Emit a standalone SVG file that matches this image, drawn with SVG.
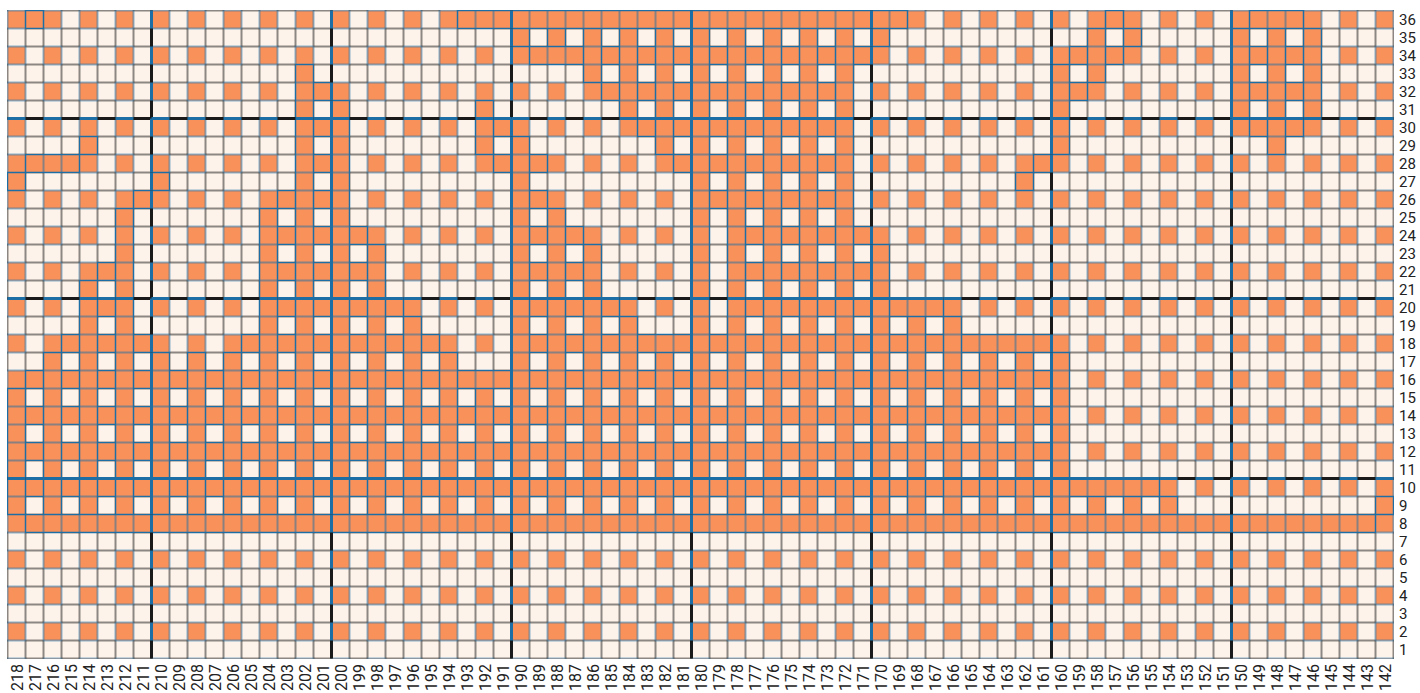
<svg xmlns="http://www.w3.org/2000/svg" width="1420" height="693" viewBox="0 0 1420 693">
<defs>
<pattern id="base" patternUnits="userSpaceOnUse" x="7.5" y="10.5" width="36" height="36">
<rect width="36" height="36" fill="#fdf3ea"/>
<path d="M0 18V36M18 18V36M36 18V36M18 0H36M18 18H36M18 36H36" fill="none" stroke="#1a1a1a"/>
<rect width="18" height="18" fill="#f9915b"/>
<path d="M0 0H18V18H0ZM36 0V18M0 36H18" fill="none" stroke="#1c6ea4"/>
</pattern>
<pattern id="org" patternUnits="userSpaceOnUse" x="7.5" y="10.5" width="18" height="18">
<rect width="18" height="18" fill="#f9915b"/>
<path d="M0 0H18V18H0Z" fill="none" stroke="#1c6ea4"/>
</pattern>
</defs>
<style>
.o{fill:url(#org);stroke:#1c6ea4;stroke-width:1}
.tk{stroke:#1a1a1a;stroke-width:3;fill:none}
.tb{stroke:#1c6ea4;stroke-width:3;fill:none}
.td{stroke:#1c6ea4;stroke-width:3;stroke-dasharray:18 18}
text{font-family:Roboto,"Liberation Sans",sans-serif;fill:#222}
.rl{font-size:15px}
.cl{font-size:16px;text-anchor:end}
</style>
<rect x="0" y="0" width="1420" height="693" fill="#ffffff"/>
<g id="grid">
<rect x="7" y="10" width="1387" height="649" fill="url(#base)"/>
</g>
<g id="hbars" class="o">
<rect x="25.5" y="10.5" width="18" height="18"/>
<rect x="457.5" y="10.5" width="450" height="18"/>
<rect x="1105.5" y="10.5" width="18" height="18"/>
<rect x="1249.5" y="10.5" width="54" height="18"/>
<rect x="529.5" y="46.5" width="342" height="18"/>
<rect x="1069.5" y="46.5" width="54" height="18"/>
<rect x="1249.5" y="46.5" width="54" height="18"/>
<rect x="313.5" y="82.5" width="18" height="18"/>
<rect x="601.5" y="82.5" width="234" height="18"/>
<rect x="1069.5" y="82.5" width="18" height="18"/>
<rect x="1249.5" y="82.5" width="54" height="18"/>
<rect x="313.5" y="118.5" width="18" height="18"/>
<rect x="493.5" y="118.5" width="18" height="18"/>
<rect x="637.5" y="118.5" width="198" height="18"/>
<rect x="1249.5" y="118.5" width="54" height="18"/>
<rect x="25.5" y="154.5" width="54" height="18"/>
<rect x="313.5" y="154.5" width="18" height="18"/>
<rect x="493.5" y="154.5" width="54" height="18"/>
<rect x="673.5" y="154.5" width="162" height="18"/>
<rect x="1033.5" y="154.5" width="18" height="18"/>
<rect x="133.5" y="190.5" width="18" height="18"/>
<rect x="277.5" y="190.5" width="54" height="18"/>
<rect x="529.5" y="190.5" width="18" height="18"/>
<rect x="709.5" y="190.5" width="126" height="18"/>
<rect x="277.5" y="226.5" width="90" height="18"/>
<rect x="529.5" y="226.5" width="54" height="18"/>
<rect x="745.5" y="226.5" width="126" height="18"/>
<rect x="97.5" y="262.5" width="18" height="18"/>
<rect x="277.5" y="262.5" width="90" height="18"/>
<rect x="529.5" y="262.5" width="54" height="18"/>
<rect x="745.5" y="262.5" width="126" height="18"/>
<rect x="97.5" y="298.5" width="18" height="18"/>
<rect x="277.5" y="298.5" width="126" height="18"/>
<rect x="529.5" y="298.5" width="90" height="18"/>
<rect x="745.5" y="298.5" width="198" height="18"/>
<rect x="61.5" y="334.5" width="90" height="18"/>
<rect x="241.5" y="334.5" width="198" height="18"/>
<rect x="529.5" y="334.5" width="522" height="18"/>
<rect x="25.5" y="370.5" width="1026" height="18"/>
<rect x="25.5" y="406.5" width="1026" height="18"/>
<rect x="25.5" y="442.5" width="1026" height="18"/>
<rect x="25.5" y="478.5" width="1134" height="18"/>
<rect x="25.5" y="514.5" width="1350" height="18"/>
</g>
<g id="vbars" class="o">
<rect x="7.5" y="172.5" width="18" height="18"/>
<rect x="7.5" y="388.5" width="18" height="126"/>
<rect x="43.5" y="352.5" width="18" height="162"/>
<rect x="79.5" y="136.5" width="18" height="18"/>
<rect x="79.5" y="280.5" width="18" height="234"/>
<rect x="115.5" y="208.5" width="18" height="306"/>
<rect x="151.5" y="172.5" width="18" height="18"/>
<rect x="151.5" y="352.5" width="18" height="162"/>
<rect x="187.5" y="352.5" width="18" height="162"/>
<rect x="223.5" y="352.5" width="18" height="162"/>
<rect x="259.5" y="208.5" width="18" height="306"/>
<rect x="295.5" y="64.5" width="18" height="450"/>
<rect x="331.5" y="100.5" width="18" height="414"/>
<rect x="367.5" y="244.5" width="18" height="270"/>
<rect x="403.5" y="316.5" width="18" height="198"/>
<rect x="439.5" y="352.5" width="18" height="162"/>
<rect x="475.5" y="100.5" width="18" height="54"/>
<rect x="475.5" y="388.5" width="18" height="126"/>
<rect x="511.5" y="28.5" width="18" height="18"/>
<rect x="511.5" y="136.5" width="18" height="378"/>
<rect x="547.5" y="28.5" width="18" height="18"/>
<rect x="547.5" y="208.5" width="18" height="306"/>
<rect x="583.5" y="28.5" width="18" height="54"/>
<rect x="583.5" y="244.5" width="18" height="270"/>
<rect x="619.5" y="28.5" width="18" height="90"/>
<rect x="619.5" y="316.5" width="18" height="198"/>
<rect x="655.5" y="28.5" width="18" height="126"/>
<rect x="655.5" y="352.5" width="18" height="162"/>
<rect x="691.5" y="28.5" width="18" height="486"/>
<rect x="727.5" y="28.5" width="18" height="486"/>
<rect x="763.5" y="28.5" width="18" height="486"/>
<rect x="799.5" y="28.5" width="18" height="486"/>
<rect x="835.5" y="28.5" width="18" height="486"/>
<rect x="871.5" y="28.5" width="18" height="18"/>
<rect x="871.5" y="244.5" width="18" height="270"/>
<rect x="907.5" y="316.5" width="18" height="198"/>
<rect x="943.5" y="316.5" width="18" height="198"/>
<rect x="979.5" y="352.5" width="18" height="162"/>
<rect x="1015.5" y="172.5" width="18" height="18"/>
<rect x="1015.5" y="352.5" width="18" height="162"/>
<rect x="1051.5" y="64.5" width="18" height="90"/>
<rect x="1051.5" y="352.5" width="18" height="162"/>
<rect x="1087.5" y="28.5" width="18" height="54"/>
<rect x="1087.5" y="496.5" width="18" height="18"/>
<rect x="1123.5" y="28.5" width="18" height="18"/>
<rect x="1123.5" y="496.5" width="18" height="18"/>
<rect x="1159.5" y="496.5" width="18" height="18"/>
<rect x="1231.5" y="28.5" width="18" height="90"/>
<rect x="1267.5" y="28.5" width="18" height="126"/>
<rect x="1303.5" y="28.5" width="18" height="90"/>
<rect x="1375.5" y="496.5" width="18" height="18"/>
</g>
<g id="thick-lines">
<path class="tk" d="M151.5 10.5V658.5M331.5 10.5V658.5M511.5 10.5V658.5M691.5 10.5V658.5M871.5 10.5V658.5M1051.5 10.5V658.5M1231.5 10.5V658.5M7.5 118.5H1393.5M7.5 298.5H1393.5M7.5 478.5H1393.5"/>
<line class="td" x1="151.5" y1="10.5" x2="151.5" y2="658.5"/>
<line class="td" x1="331.5" y1="10.5" x2="331.5" y2="658.5"/>
<line class="td" x1="511.5" y1="10.5" x2="511.5" y2="658.5"/>
<line class="td" x1="691.5" y1="10.5" x2="691.5" y2="658.5"/>
<line class="td" x1="871.5" y1="10.5" x2="871.5" y2="658.5"/>
<line class="td" x1="1051.5" y1="10.5" x2="1051.5" y2="658.5"/>
<line class="td" x1="1231.5" y1="10.5" x2="1231.5" y2="658.5"/>
<line class="td" x1="7.5" y1="118.5" x2="1393.5" y2="118.5"/>
<line class="td" x1="7.5" y1="298.5" x2="1393.5" y2="298.5"/>
<line class="td" x1="7.5" y1="478.5" x2="1393.5" y2="478.5"/>
<path class="tb" d="M151.5 172.5V190.5M151.5 352.5V514.5M331.5 100.5V514.5M511.5 28.5V46.5M511.5 136.5V514.5M691.5 10.5V514.5M871.5 28.5V46.5M871.5 244.5V514.5M1051.5 64.5V154.5M1051.5 352.5V514.5M1231.5 10.5V118.5M313.5 118.5H331.5M493.5 118.5H511.5M637.5 118.5H835.5M1249.5 118.5H1303.5M97.5 298.5H115.5M277.5 298.5H403.5M529.5 298.5H619.5M745.5 298.5H943.5M25.5 478.5H1159.5"/>
</g>
<g id="row-labels" class="rl">
<text x="1399" y="25">36</text><text x="1399" y="43">35</text><text x="1399" y="61">34</text><text x="1399" y="79">33</text>
<text x="1399" y="97">32</text><text x="1399" y="115">31</text><text x="1399" y="133">30</text><text x="1399" y="151">29</text>
<text x="1399" y="169">28</text><text x="1399" y="187">27</text><text x="1399" y="205">26</text><text x="1399" y="223">25</text>
<text x="1399" y="241">24</text><text x="1399" y="259">23</text><text x="1399" y="277">22</text><text x="1399" y="295">21</text>
<text x="1399" y="313">20</text><text x="1399" y="331">19</text><text x="1399" y="349">18</text><text x="1399" y="367">17</text>
<text x="1399" y="385">16</text><text x="1399" y="403">15</text><text x="1399" y="421">14</text><text x="1399" y="439">13</text>
<text x="1399" y="457">12</text><text x="1399" y="475">11</text><text x="1399" y="493">10</text><text x="1399" y="511">9</text>
<text x="1399" y="529">8</text><text x="1399" y="547">7</text><text x="1399" y="565">6</text><text x="1399" y="583">5</text>
<text x="1399" y="601">4</text><text x="1399" y="619">3</text><text x="1399" y="637">2</text><text x="1399" y="655">1</text>
</g>
<g id="column-labels" class="cl" transform="rotate(-90)">
<text x="-664" y="22.5">218</text><text x="-664" y="40.5">217</text><text x="-664" y="58.5">216</text><text x="-664" y="76.5">215</text>
<text x="-664" y="94.5">214</text><text x="-664" y="112.5">213</text><text x="-664" y="130.5">212</text><text x="-664" y="148.5">211</text>
<text x="-664" y="166.5">210</text><text x="-664" y="184.5">209</text><text x="-664" y="202.5">208</text><text x="-664" y="220.5">207</text>
<text x="-664" y="238.5">206</text><text x="-664" y="256.5">205</text><text x="-664" y="274.5">204</text><text x="-664" y="292.5">203</text>
<text x="-664" y="310.5">202</text><text x="-664" y="328.5">201</text><text x="-664" y="346.5">200</text><text x="-664" y="364.5">199</text>
<text x="-664" y="382.5">198</text><text x="-664" y="400.5">197</text><text x="-664" y="418.5">196</text><text x="-664" y="436.5">195</text>
<text x="-664" y="454.5">194</text><text x="-664" y="472.5">193</text><text x="-664" y="490.5">192</text><text x="-664" y="508.5">191</text>
<text x="-664" y="526.5">190</text><text x="-664" y="544.5">189</text><text x="-664" y="562.5">188</text><text x="-664" y="580.5">187</text>
<text x="-664" y="598.5">186</text><text x="-664" y="616.5">185</text><text x="-664" y="634.5">184</text><text x="-664" y="652.5">183</text>
<text x="-664" y="670.5">182</text><text x="-664" y="688.5">181</text><text x="-664" y="706.5">180</text><text x="-664" y="724.5">179</text>
<text x="-664" y="742.5">178</text><text x="-664" y="760.5">177</text><text x="-664" y="778.5">176</text><text x="-664" y="796.5">175</text>
<text x="-664" y="814.5">174</text><text x="-664" y="832.5">173</text><text x="-664" y="850.5">172</text><text x="-664" y="868.5">171</text>
<text x="-664" y="886.5">170</text><text x="-664" y="904.5">169</text><text x="-664" y="922.5">168</text><text x="-664" y="940.5">167</text>
<text x="-664" y="958.5">166</text><text x="-664" y="976.5">165</text><text x="-664" y="994.5">164</text><text x="-664" y="1012.5">163</text>
<text x="-664" y="1030.5">162</text><text x="-664" y="1048.5">161</text><text x="-664" y="1066.5">160</text><text x="-664" y="1084.5">159</text>
<text x="-664" y="1102.5">158</text><text x="-664" y="1120.5">157</text><text x="-664" y="1138.5">156</text><text x="-664" y="1156.5">155</text>
<text x="-664" y="1174.5">154</text><text x="-664" y="1192.5">153</text><text x="-664" y="1210.5">152</text><text x="-664" y="1228.5">151</text>
<text x="-664" y="1246.5">150</text><text x="-664" y="1264.5">149</text><text x="-664" y="1282.5">148</text><text x="-664" y="1300.5">147</text>
<text x="-664" y="1318.5">146</text><text x="-664" y="1336.5">145</text><text x="-664" y="1354.5">144</text><text x="-664" y="1372.5">143</text>
<text x="-664" y="1390.5">142</text>
</g>
</svg>
